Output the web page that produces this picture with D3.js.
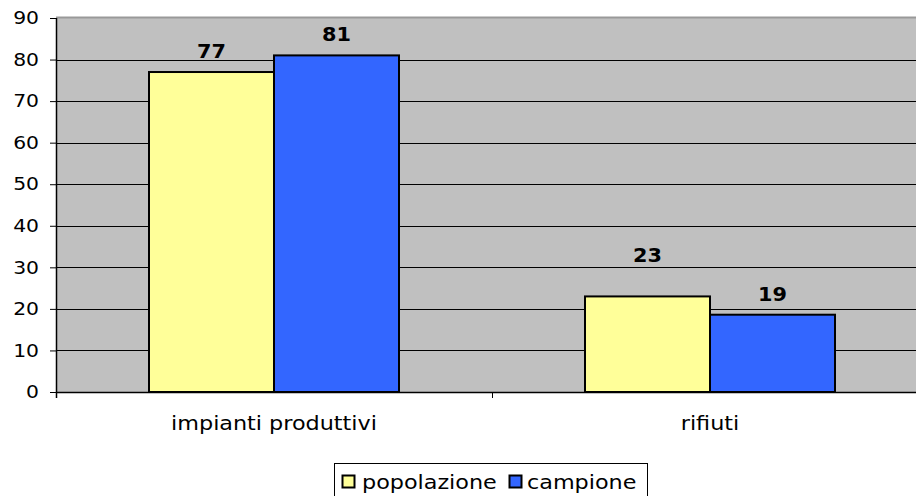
<!DOCTYPE html>
<html><head><meta charset="utf-8">
<script src="https://cdn.jsdelivr.net/npm/d3@7"></script>
<style>body{margin:0;background:#fff}svg{display:block}text{font-family:"DejaVu Sans",Verdana,sans-serif}</style>
</head><body>
<svg id="c" width="916" height="496"></svg>
<script>
const categories = ["impianti produttivi", "rifiuti"];
const seriesNames = ["popolazione", "campione"];
const popolazione = [77, 23];
const campione = [81, 18.6];
const yTicks = [0, 10, 20, 30, 40, 50, 60, 70, 80, 90];
const colors = ["#FFFF99", "#3366FF"];

const FONT = "DejaVu Sans, Verdana, sans-serif";
function stretch(sel, k) {
  sel.each(function () {
    const t = d3.select(this);
    const x0 = +(t.attr("x") || 0);
    t.attr("x", x0 / k).attr("transform", `scale(${k},1)`);
  });
}
// label gap above bar (px); Excel lifted one label higher
const labelGap = (c, s) => (c === "rifiuti" && s === "popolazione") ? 34 : 14;

const svg = d3.select("#c");
const m = {left: 56, top: 18, right: 928, bottom: 392};
const x = d3.scaleBand().domain(categories).range([m.left, m.right]).paddingInner(0).paddingOuter(0);
const y = d3.scaleLinear().domain([0, 90]).range([m.bottom, m.top]);
const bw = x.bandwidth() * 250 / 436;
const xs = d3.scaleBand().domain(seriesNames).range([0, bw]);

svg.append("rect").attr("x", m.left).attr("y", m.top).attr("width", m.right - m.left).attr("height", m.bottom - m.top).attr("fill", "#C0C0C0");
svg.append("line").attr("x1", m.left).attr("x2", m.right).attr("y1", m.top - 0.5).attr("y2", m.top - 0.5).attr("stroke", "#999").attr("stroke-width", 2);

svg.append("g").selectAll("line").data(yTicks.filter(d => d > 0 && d < 90)).join("line")
  .attr("x1", m.left).attr("x2", m.right).attr("y1", d => Math.round(y(d)) + 0.5).attr("y2", d => Math.round(y(d)) + 0.5)
  .attr("stroke", "#000").attr("stroke-width", 1);

const data = categories.map((c, i) => seriesNames.map((s, j) => ({c, s, v: [popolazione, campione][j][i], j})));
const g = svg.append("g");
data.flat().forEach(d => {
  const x0 = x(d.c) + (x.bandwidth() - bw) / 2 + xs(d.s);
  g.append("rect").attr("x", x0).attr("y", y(d.v)).attr("width", xs.bandwidth()).attr("height", y(0) - y(d.v))
    .attr("fill", colors[d.j]).attr("stroke", "#000").attr("stroke-width", 2);
  const lbl = g.append("text").attr("x", x0 + xs.bandwidth() / 2).attr("y", y(d.v) - labelGap(d.c, d.s)).attr("text-anchor", "middle")
    .attr("font-size", 20).attr("font-weight", "bold").attr("fill", "#000").text(d3.format(".0f")(d.v));
  stretch(lbl, 1.04);
});

const ya = d3.axisLeft(y).tickValues(yTicks).tickSize(6).tickPadding(11).tickFormat(d3.format("d"));
const yg = svg.append("g").attr("transform", `translate(${m.left},0)`).call(ya);
yg.select(".domain").attr("stroke", "#000").attr("stroke-width", 1.5).attr("d", `M0.5,${m.top}V${m.bottom + 6}`);
yg.selectAll(".tick text").attr("font-size", 18).attr("fill", "#000").attr("font-family", FONT);
stretch(yg.selectAll(".tick text"), 1.13);
yg.selectAll(".tick line").attr("stroke", "#000");

const xa = d3.axisBottom(x).tickSize(0).tickPadding(24);
const xg = svg.append("g").attr("transform", `translate(0,${m.bottom})`).call(xa);
xg.select(".domain").attr("stroke", "#000").attr("stroke-width", 1.5).attr("d", `M${m.left},0.5H${m.right}`);
xg.selectAll(".tick text").attr("font-size", 20).attr("fill", "#000").attr("font-family", FONT);
stretch(xg.selectAll(".tick text"), 1.115);
svg.append("line").attr("x1", x(categories[1]) + 0.5).attr("x2", x(categories[1]) + 0.5).attr("y1", m.bottom).attr("y2", m.bottom + 6).attr("stroke", "#000");

const lg = svg.append("g");
lg.append("rect").attr("x", 334.5).attr("y", 463.5).attr("width", 313).attr("height", 40).attr("fill", "#fff").attr("stroke", "#000");
const items = [{n: seriesNames[0], c: colors[0], sx: 342, tx: 362}, {n: seriesNames[1], c: colors[1], sx: 509, tx: 527}];
items.forEach(it => {
  lg.append("rect").attr("x", it.sx + 0.5).attr("y", 475.5).attr("width", 12).attr("height", 12).attr("fill", it.c).attr("stroke", "#000").attr("stroke-width", 2);
  const t = lg.append("text").attr("x", it.tx).attr("y", 489).attr("font-size", 20).attr("fill", "#000").text(it.n);
  stretch(t, 1.115);
});
</script>
</body></html>
